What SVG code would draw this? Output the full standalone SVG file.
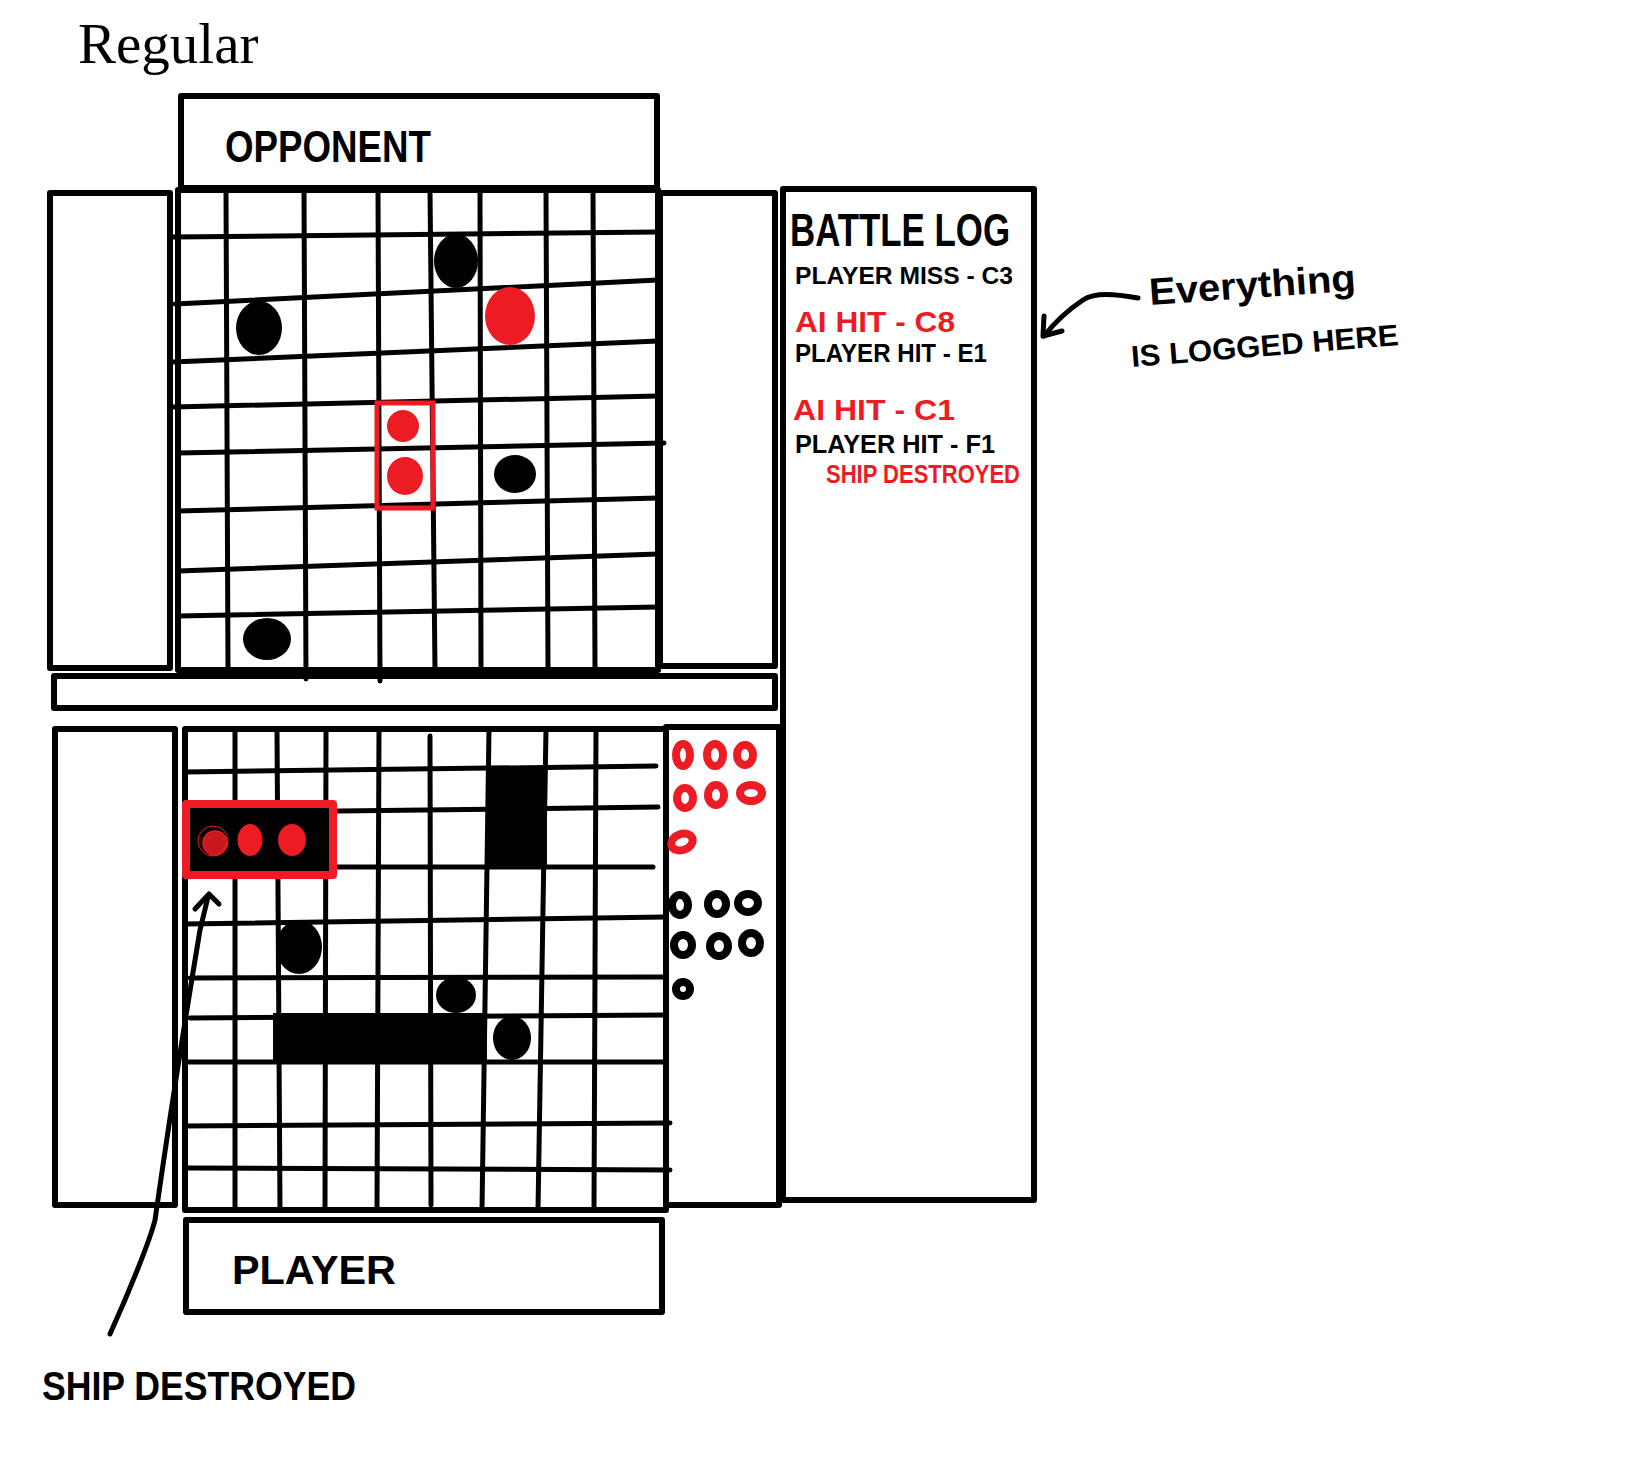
<svg xmlns="http://www.w3.org/2000/svg" width="1641" height="1459" viewBox="0 0 1641 1459">
<style>
.box{fill:none;stroke:#000;stroke-width:6;stroke-linejoin:round}
.gl{fill:none;stroke:#000;stroke-width:5;stroke-linecap:round}
.red{fill:#ED1C24}
.blk{fill:#000}
.ringr{fill:none;stroke:#ED1C24;stroke-width:8}
.ringb{fill:none;stroke:#000;stroke-width:8}
.hand{font-family:"Liberation Sans","DejaVu Sans",sans-serif;font-weight:bold}
.conn{fill:none;stroke:#000;stroke-width:5;stroke-linecap:round;stroke-linejoin:round}
</style>
<rect width="1641" height="1459" fill="#fff"/>

<g id="title">
<text x="78" y="63" font-family="Liberation Serif, serif" font-size="57" fill="#000">Regular</text>
</g>

<g id="opponent-header">
<rect class="box" x="181" y="96" width="476" height="92"/>
<text class="hand" x="225" y="162" font-size="44" textLength="206" lengthAdjust="spacingAndGlyphs">OPPONENT</text>
</g>

<g id="opponent-left-panel">
<rect class="box" x="50" y="193" width="120" height="475"/>
</g>

<g id="opponent-grid">
<rect class="box" x="178" y="190" width="480" height="480"/>
<line class="gl" x1="178" y1="190" x2="658" y2="190" stroke-width="9"/>
<path class="gl" d="M226,190 L228,670 M304,190 L306,679 M378,190 L380,681 M430,190 L435,670 M480,190 L481,670 M546,190 L548,670 M593,190 L595,670"/>
<path class="gl" d="M173,237 L658,232 M175,304 L658,280 M173,362 L658,341 M173,407 L658,396 M178,453 L664,443 M178,511 L658,498 M178,571 L658,554 M178,616 L658,607"/>
<ellipse class="blk" cx="456" cy="261" rx="22" ry="27"/>
<ellipse class="blk" cx="259" cy="328" rx="23" ry="27"/>
<ellipse class="red" cx="510" cy="316" rx="25" ry="29"/>
<rect x="377" y="403" width="56" height="105" fill="none" stroke="#ED1C24" stroke-width="5"/>
<ellipse class="red" cx="403" cy="426" rx="16" ry="16"/>
<ellipse class="red" cx="405" cy="476" rx="18" ry="19"/>
<ellipse class="blk" cx="515" cy="474" rx="21" ry="19"/>
<ellipse class="blk" cx="267" cy="639" rx="24" ry="21"/>
</g>

<g id="opponent-right-panel">
<rect class="box" x="660" y="193" width="115" height="473"/>
</g>

<g id="divider-bar">
<rect class="box" x="54" y="676" width="721" height="32"/>
</g>

<g id="player-left-panel">
<rect class="box" x="55" y="729" width="120" height="476"/>
</g>

<g id="player-grid">
<rect class="box" x="185" y="729" width="481" height="481"/>
<path class="gl" d="M235,729 L235,1210 M277,729 L280,1210 M326,729 L325,1210 M379,729 L377,1210 M430,736 L431,1205 M489,729 L482,1210 M546,729 L538,1210 M596,729 L594,1210"/>
<path class="gl" d="M185,772 L656,766 M185,813 L658,807 M185,867 L653,867 M185,924 L666,917 M190,978 L666,977 M190,1018 L666,1015 M185,1062 L666,1062 M185,1126 L670,1123 M185,1168 L670,1170"/>
<rect class="blk" x="489" y="766" width="58" height="101"/>
<rect x="186" y="804" width="147" height="71" fill="#000" stroke="#ED1C24" stroke-width="8" stroke-linejoin="round"/>
<circle cx="215" cy="843" r="12" fill="#ED1C24" fill-opacity="0.85" stroke="#ED1C24" stroke-width="1.5"/>
<circle cx="213" cy="841" r="15" fill="none" stroke="#ED1C24" stroke-width="1"/>
<ellipse class="red" cx="250" cy="840" rx="12.5" ry="16"/>
<ellipse class="red" cx="292" cy="840" rx="14" ry="16"/>
<ellipse class="blk" cx="299" cy="947" rx="23" ry="27"/>
<ellipse class="blk" cx="456" cy="995" rx="20" ry="18"/>
<rect class="blk" x="273" y="1013" width="214" height="49"/>
<ellipse class="blk" cx="512" cy="1038" rx="19" ry="22"/>
</g>

<g id="player-ships-panel">
<rect class="box" x="666" y="727" width="113" height="478"/>
<ellipse class="ringr" cx="683" cy="755" rx="7" ry="11"/>
<ellipse class="ringr" cx="715" cy="755" rx="8" ry="11"/>
<ellipse class="ringr" cx="745" cy="755" rx="8" ry="10"/>
<ellipse class="ringr" cx="685" cy="798" rx="8" ry="10"/>
<ellipse class="ringr" cx="716" cy="795" rx="8" ry="10"/>
<ellipse class="ringr" cx="751" cy="793" rx="11" ry="8"/>
<ellipse class="ringr" cx="682" cy="842" rx="11" ry="8" transform="rotate(-20 682 842)"/>
<ellipse class="ringb" cx="680" cy="905" rx="8" ry="10"/>
<ellipse class="ringb" cx="717" cy="904" rx="9" ry="10"/>
<ellipse class="ringb" cx="748" cy="903" rx="10" ry="9"/>
<ellipse class="ringb" cx="683" cy="945" rx="9" ry="10"/>
<ellipse class="ringb" cx="719" cy="946" rx="9" ry="10"/>
<ellipse class="ringb" cx="751" cy="943" rx="9" ry="10"/>
<ellipse class="ringb" cx="683" cy="989" rx="7" ry="7"/>
</g>

<g id="player-header">
<rect class="box" x="186" y="1220" width="476" height="92"/>
<text class="hand" x="232" y="1284" font-size="40" textLength="164" lengthAdjust="spacingAndGlyphs">PLAYER</text>
</g>

<g id="battle-log">
<rect class="box" x="783" y="189" width="251" height="1011"/>
<text class="hand" x="790" y="246" font-size="46" textLength="220" lengthAdjust="spacingAndGlyphs">BATTLE LOG</text>
<text class="hand" x="795" y="284" font-size="24" textLength="218" lengthAdjust="spacingAndGlyphs">PLAYER MISS - C3</text>
<text class="hand" x="795" y="332" font-size="30" fill="#ED1C24" textLength="160" lengthAdjust="spacingAndGlyphs">AI HIT - C8</text>
<text class="hand" x="795" y="362" font-size="26" textLength="192" lengthAdjust="spacingAndGlyphs">PLAYER HIT - E1</text>
<text class="hand" x="793" y="420" font-size="30" fill="#ED1C24" textLength="162" lengthAdjust="spacingAndGlyphs">AI HIT - C1</text>
<text class="hand" x="795" y="453" font-size="26" textLength="200" lengthAdjust="spacingAndGlyphs">PLAYER HIT - F1</text>
<text class="hand" x="826" y="483" font-size="26" fill="#ED1C24" textLength="194" lengthAdjust="spacingAndGlyphs">SHIP DESTROYED</text>
</g>

<g id="annotation-log">
<text class="hand" x="1150" y="305" font-size="38" textLength="207" lengthAdjust="spacingAndGlyphs" transform="rotate(-4 1150 305)">Everything</text>
<text class="hand" x="1132" y="367" font-size="30" textLength="268" lengthAdjust="spacingAndGlyphs" transform="rotate(-4.7 1132 367)">IS LOGGED HERE</text>
</g>

<g id="annotation-ship">
<text class="hand" x="42" y="1400" font-size="40" textLength="314" lengthAdjust="spacingAndGlyphs">SHIP DESTROYED</text>
</g>

<g id="connectors">
<path class="conn" d="M1138,298 C1115,294 1095,292 1083,300 C1068,310 1055,322 1044,336"/>
<path class="conn" d="M1044,316 L1043,336 L1062,331"/>
<path class="conn" d="M110,1334 C130,1290 150,1240 155,1220 C165,1150 185,1020 200,930 L208,897"/>
<path class="conn" d="M195,909 L209,894 L219,904"/>
</g>
</svg>
